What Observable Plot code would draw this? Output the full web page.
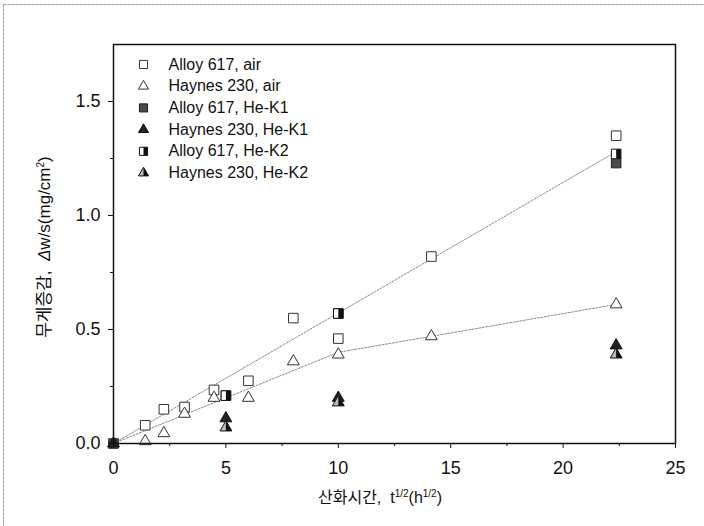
<!DOCTYPE html>
<html><head><meta charset="utf-8">
<script src="https://cdn.jsdelivr.net/npm/d3@7"></script>
<script src="https://cdn.jsdelivr.net/npm/@observablehq/plot@0.6"></script>
<style>
body{margin:0;background:#fff;}
#wrap{position:relative;width:704px;height:526px;overflow:hidden;}
</style></head><body><div id="wrap"></div>
<script>
// ---- data (x = t^1/2 in h^1/2, y = weight gain mg/cm^2)
const timeAir   = [1.41, 2.24, 3.16, 4.47, 6, 8, 10, 14.14, 22.36];
const alloyAir  = [0.08, 0.15, 0.16, 0.235, 0.275, 0.55, 0.46, 0.82, 1.35];
const haynesAir = [0.01, 0.045, 0.13, 0.20, 0.20, 0.36, 0.39, 0.47, 0.61];
const timeK1    = [0, 5, 10, 22.36];
const alloyK1   = [0, 0.21, 0.57, 1.23];
const haynesK1  = [0, 0.11, 0.20, 0.43];
const timeK2    = [5, 10, 22.36];
const alloyK2   = [0.21, 0.57, 1.27];
const haynesK2  = [0.07, 0.18, 0.39];
const alloyFitX  = [0, 22.36];
const alloyFitY  = [0, 1.28];
const haynesFitX = [0, 10, 14.14, 22.36];
const haynesFitY = [0, 0.40, 0.47, 0.61];
const xTicks = [0, 5, 10, 15, 20, 25];
const xMinor = [2.5, 7.5, 12.5, 17.5, 22.5];
const yTicks = [0, 0.5, 1.0, 1.5];
const yMinor = [0.25, 0.75, 1.25];
const seriesNames = ["Alloy 617, air", "Haynes 230, air", "Alloy 617, He-K1",
                     "Haynes 230, He-K1", "Alloy 617, He-K2", "Haynes 230, He-K2"];

const pts = (xs, ys) => xs.map((x, i) => ({x, y: ys[i]}));

const halfSquare = {draw(ctx, size) {
  const s = Math.sqrt(size) / 2;
  ctx.moveTo(0, -s); ctx.lineTo(s, -s); ctx.lineTo(s, s); ctx.lineTo(0, s); ctx.closePath();
}};
const halfTri = {draw(ctx, size) {
  const y = -Math.sqrt(size / (Math.sqrt(3) * 3));
  ctx.moveTo(0, 2 * y); ctx.lineTo(-Math.sqrt(3) * y, -y); ctx.lineTo(0, -y); ctx.closePath();
}};

const RS = 5.4, RT = 4.4;
const styles = [
  [{symbol: "square", fill: "white", stroke: "#333", r: RS}],
  [{symbol: "triangle", fill: "white", stroke: "#333", r: RT}],
  [{symbol: "square", fill: "#4a4a4a", stroke: "#222", r: RS}],
  [{symbol: "triangle", fill: "#222", stroke: "#111", r: RT}],
  [{symbol: "square", fill: "white", stroke: "#111", r: RS}, {symbol: halfSquare, fill: "#111", stroke: "none", r: RS}],
  [{symbol: "triangle", fill: "#bbb", stroke: "#111", r: RT}, {symbol: halfTri, fill: "#111", stroke: "none", r: RT}]
];
const seriesData = [
  pts(timeAir, alloyAir), pts(timeAir, haynesAir),
  pts(timeK1, alloyK1), pts(timeK1, haynesK1),
  pts(timeK2, alloyK2), pts(timeK2, haynesK2)
];

const marks = [];
marks.push(Plot.line(pts(alloyFitX, alloyFitY), {x: "x", y: "y", stroke: "#8a8a8a", strokeWidth: 1, strokeDasharray: "2,1.5"}));
marks.push(Plot.line(pts(haynesFitX, haynesFitY), {x: "x", y: "y", stroke: "#8a8a8a", strokeWidth: 1, strokeDasharray: "2,1.5"}));
seriesData.forEach((d, i) => {
  styles[i].forEach(s => marks.push(Plot.dot(d, {x: "x", y: "y", symbol: () => s.symbol, r: s.r, fill: s.fill, stroke: s.stroke, strokeWidth: 1})));
});
// legend (inside the frame, top-left)
seriesNames.forEach((name, i) => {
  const dy = 20 + i * 21.7;
  styles[i].forEach(s => marks.push(Plot.dot([name], {frameAnchor: "top-left", dx: 30, dy, symbol: () => s.symbol, r: s.r * 0.85, fill: s.fill, stroke: s.stroke, strokeWidth: 1})));
  marks.push(Plot.text([name], {frameAnchor: "top-left", dx: 55, dy, text: d => d, textAnchor: "start", lineAnchor: "middle", fontSize: 16, fill: "#111"}));
});
marks.push(Plot.axisX({ticks: xTicks, tickSize: 5, tickPadding: 13, tickFormat: d => String(d), label: null, fontSize: 18}));
marks.push(Plot.axisX({ticks: xMinor, tickSize: 3, text: null, label: null}));
marks.push(Plot.axisY({ticks: yTicks, tickSize: 5, tickPadding: 8, tickFormat: d3.format(".1f"), label: null, fontSize: 18}));
marks.push(Plot.axisY({ticks: yMinor, tickSize: 3, text: null, label: null}));
marks.push(Plot.frame({stroke: "#111", strokeWidth: 1.5}));

const chart = Plot.plot({
  width: 704, height: 526,
  marginLeft: 113, marginRight: 29, marginTop: 44, marginBottom: 83,
  x: {domain: [0, 25]},
  y: {domain: [0, 1.75]},
  style: {fontFamily: "'Liberation Sans', Arial, 'Noto Sans CJK KR', sans-serif", fontSize: "18px", color: "#111", background: "white"},
  marks
});
document.getElementById("wrap").appendChild(chart);

const svg = d3.select(chart);
// scanned figure edges (top and left)
svg.append("line").attr("x1", 3.5).attr("x2", 704).attr("y1", 4.5).attr("y2", 4.5)
  .attr("stroke", "#9a9a9a").attr("stroke-width", 1).attr("stroke-dasharray", "3,1");
svg.append("line").attr("x1", 3.5).attr("x2", 3.5).attr("y1", 4.5).attr("y2", 526)
  .attr("stroke", "#9a9a9a").attr("stroke-width", 1).attr("stroke-dasharray", "3,1");
// x axis title
const xt = svg.append("text").attr("x", 380).attr("y", 503).attr("text-anchor", "middle")
  .attr("font-size", 16).attr("fill", "#111")
  .attr("font-family", "'Liberation Sans', 'Noto Sans CJK KR', sans-serif");
xt.append("tspan").text("산화시간,  t");
xt.append("tspan").attr("font-size", 10).attr("dy", -6).text("1/2");
xt.append("tspan").attr("dy", 6).text("(h");
xt.append("tspan").attr("font-size", 10).attr("dy", -6).text("1/2");
xt.append("tspan").attr("dy", 6).text(")");
// y axis title
const yt = svg.append("text").attr("transform", "translate(50,247) rotate(-90)").attr("text-anchor", "middle")
  .attr("font-size", 17).attr("fill", "#111")
  .attr("font-family", "'Liberation Sans', 'Noto Sans CJK KR', sans-serif");
yt.append("tspan").text("무게증감,  ");
yt.append("tspan").attr("font-style", "italic").text("Δ");
yt.append("tspan").text("w/s(mg/cm");
yt.append("tspan").attr("font-size", 10).attr("dy", -6).text("2");
yt.append("tspan").attr("dy", 6).text(")");
</script></body></html>
